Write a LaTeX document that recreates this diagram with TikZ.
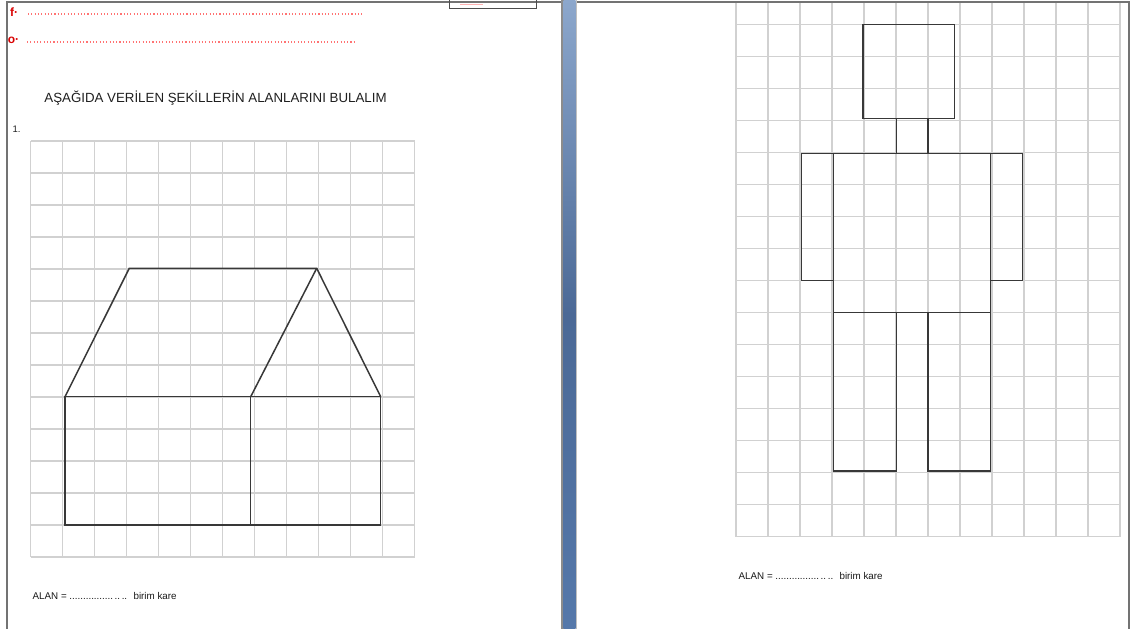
\documentclass[tikz,border=0pt]{standalone}
\usepackage{fontspec}
\setmainfont{Liberation Sans}
\begin{document}
\begin{tikzpicture}[x=1pt,y=-1pt,
  gridline/.style={draw=black!18,line width=1.3pt},
  figline/.style={draw=black!78,line width=1.5pt,line join=miter},
  frameline/.style={draw=black!55,line width=1.6pt},
  reddots/.style={draw=red!55,line width=1.1pt,dash pattern=on 1.1pt off 2.2pt},
  redlabel/.style={text=red!85!black,font=\bfseries\fontsize{12}{13}\selectfont,inner sep=0pt},
  alan/.style={font=\fontsize{9.8}{11}\selectfont,inner sep=0pt,anchor=west,text=black!90}]
\useasboundingbox (0,0) rectangle (1130,629);
\fill[white] (0,0) rectangle (1130,629);

% page frame
\draw[frameline] (7,629) -- (7,2) -- (1129,2) -- (1129,629);

% divider bar between pages
\fill[black!45] (561,0) rectangle (563.5,629);
\shade[top color={rgb,255:red,140;green,167;blue,204}, bottom color={rgb,255:red,85;green,120;blue,170}, middle color={rgb,255:red,75;green,105;blue,150}] (563.5,0) rectangle (575.5,629);
\fill[black!25] (575.5,0) rectangle (576.5,629);

% small box at the top
\draw[black!70,line width=1.3pt] (449.5,-1) -- (449.5,8.3) -- (536.5,8.3) -- (536.5,-1);
\draw[red!30,line width=1pt] (460,4) -- (483,4);

% red header lines
\node[redlabel] (f) at (14,12) {f·};
\coordinate (f1) at (28,14);
\coordinate (f2) at (362,14);
\draw[reddots] (f1) -- (f2);
\node[redlabel] (o) at (13.5,40) {o·};
\coordinate (o1) at (27,42);
\coordinate (o2) at (355,42);
\draw[reddots] (o1) -- (o2);

% title
\node[font=\fontsize{13.3}{15}\selectfont,inner sep=0pt,text=black!88] (title) at (215.5,98.5) {AŞAĞIDA VERİLEN ŞEKİLLERİN ALANLARINI BULALIM};
\node[font=\fontsize{9.5}{10}\selectfont,inner sep=0pt,text=black!88] (num) at (16.5,129) {1.};

% left grid
\foreach \i in {0,...,12} \draw[gridline] ({30.7+32*\i},141) -- ({30.7+32*\i},557);
\foreach \j in {0,...,13} \draw[gridline] (30.7,{141+32*\j}) -- (414.7,{141+32*\j});

% house
\draw[figline] (65,396.7) rectangle (250.7,525);
\draw[figline] (250.7,396.7) rectangle (380.7,525);
\draw[figline] (65,396.7) -- (129.3,268.3) -- (316.7,268.3) -- (380.7,396.7);
\draw[figline] (250.7,396.7) -- (316.7,268.3);

\node[alan] (alanL) at (32.5,595.5) {ALAN = ................\,..\,.. \ birim kare};

% right grid
\foreach \i in {0,...,12} \draw[gridline] ({736+32*\i},3) -- ({736+32*\i},536.7);
\foreach \j in {0,...,16} \draw[gridline] (736,{24.7+32*\j}) -- (1120,{24.7+32*\j});

% person
\draw[figline] (863,24.5) rectangle (954.7,118.3);
\draw[figline] (896.3,118.3) rectangle (928,153.3);
\draw[figline] (833.3,153.3) rectangle (990.7,312.7);
\draw[figline] (801.7,153.3) rectangle (833.3,280.7);
\draw[figline] (990.7,153.3) rectangle (1022.7,280.7);
\draw[figline] (833.3,312.7) rectangle (896.3,471);
\draw[figline] (928,312.7) rectangle (990.7,471);

\node[alan] (alanR) at (738.5,576) {ALAN = ................\,..\,.. \ birim kare};
\end{tikzpicture}
\end{document}
